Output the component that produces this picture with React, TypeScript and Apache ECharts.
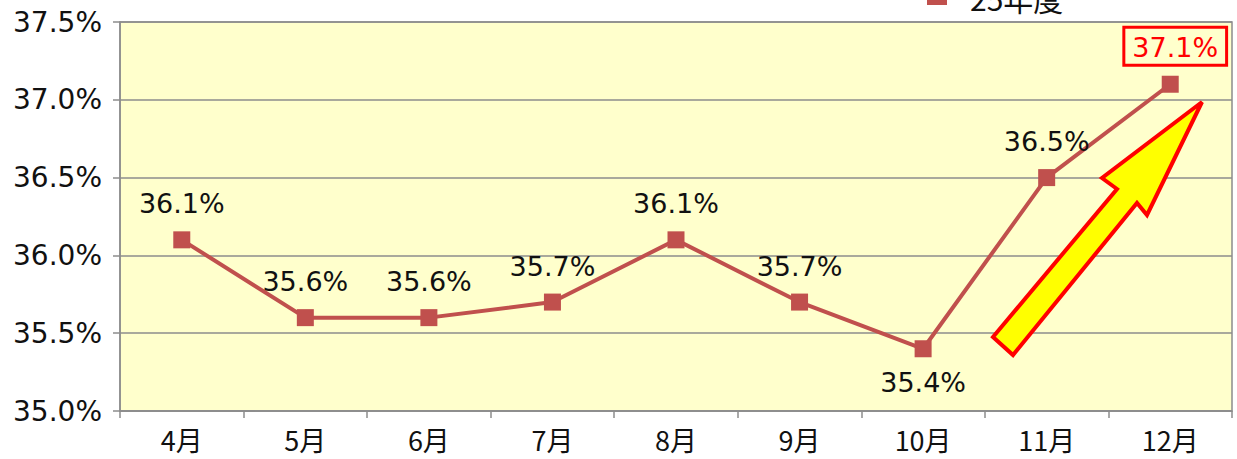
import React, { useEffect, useRef } from "react";
import * as echarts from "echarts";

const categories = ["4月", "5月", "6月", "7月", "8月", "9月", "10月", "11月", "12月"];
const values = [36.1, 35.6, 35.6, 35.7, 36.1, 35.7, 35.4, 36.5, 37.1];
const seriesName = "25年度";
const yMin = 35.0;
const yMax = 37.5;
const yInterval = 0.5;

const FONT = "'DejaVu Sans', 'Noto Sans CJK JP', sans-serif";
const CJK = "'Noto Sans CJK JP', 'Noto Sans', sans-serif";
const PLOT_BG = "#FFFFCC";

export default function App() {
  const ref = useRef<HTMLDivElement>(null);
  useEffect(() => {
    if (!ref.current) return;
    const chart = echarts.init(ref.current, null, { renderer: "svg" });
    const data = values.map((v, i) => {
      if (i === 6) {
        return { value: v, label: { position: "bottom", distance: 12 } };
      }
      if (i === values.length - 1) {
        return {
          value: v,
          label: {
            color: "#FF0000",
            backgroundColor: PLOT_BG,
            borderColor: "#FF0000",
            borderWidth: 3,
            padding: [5, 7, 3, 7],
            distance: 12,
            offset: [5, 0],
          },
        };
      }
      return v;
    });
    chart.setOption({
      animation: false,
      backgroundColor: "#FFFFFF",
      textStyle: { fontFamily: FONT },
      legend: {
        top: -22,
        left: 922,
        itemWidth: 20,
        itemHeight: 14,
        itemGap: 10,
        textStyle: { fontSize: 30, color: "#111", fontFamily: CJK, padding: [0, 0, 0, 18] },
        data: [{ name: seriesName, icon: "rect" }],
      },
      grid: {
        left: 120,
        right: 5,
        top: 22,
        bottom: 48,
        show: true,
        backgroundColor: PLOT_BG,
        borderColor: "#8C8C8C",
        borderWidth: 1.5,
      },
      xAxis: {
        type: "category",
        data: categories,
        boundaryGap: true,
        axisLine: { lineStyle: { color: "#8C8C8C", width: 1.5 } },
        axisTick: { show: true, length: 7, lineStyle: { color: "#8C8C8C", width: 1.5 } },
        axisLabel: { fontSize: 27, color: "#111", margin: 15, fontFamily: CJK },
      },
      yAxis: {
        type: "value",
        min: yMin,
        max: yMax,
        interval: yInterval,
        axisLine: { show: true, lineStyle: { color: "#8C8C8C", width: 1.5 } },
        axisTick: { show: true, length: 7, lineStyle: { color: "#8C8C8C", width: 1.5 } },
        splitLine: { lineStyle: { color: "#8C8C8C", width: 1.5 } },
        axisLabel: {
          fontSize: 28,
          color: "#111",
          margin: 18,
          fontFamily: FONT,
          formatter: (v: number) => v.toFixed(1) + "%",
        },
      },
      series: [
        {
          name: seriesName,
          type: "line",
          data,
          color: "#C0504D",
          symbol: "rect",
          symbolSize: 17,
          lineStyle: { width: 4, color: "#C0504D" },
          itemStyle: { color: "#C0504D" },
          label: {
            show: true,
            position: "top",
            distance: 14,
            fontSize: 27,
            color: "#111",
            fontFamily: FONT,
            formatter: (p: any) => Number(p.value).toFixed(1) + "%",
          },
          z: 3,
        },
      ],
      graphic: [
        {
          type: "polygon",
          z: 10,
          shape: {
            points: [
              [993, 337],
              [1117, 189],
              [1102, 178],
              [1202, 102],
              [1147, 215],
              [1137, 203],
              [1013, 355],
            ],
          },
          style: { fill: "#FFFF00", stroke: "#FF0000", lineWidth: 4, lineJoin: "miter" },
        },
      ],
    });
    return () => chart.dispose();
  }, []);
  return (
    <div
      ref={ref}
      style={{ position: "fixed", left: 0, top: 0, width: 1237, height: 459 }}
    />
  );
}
